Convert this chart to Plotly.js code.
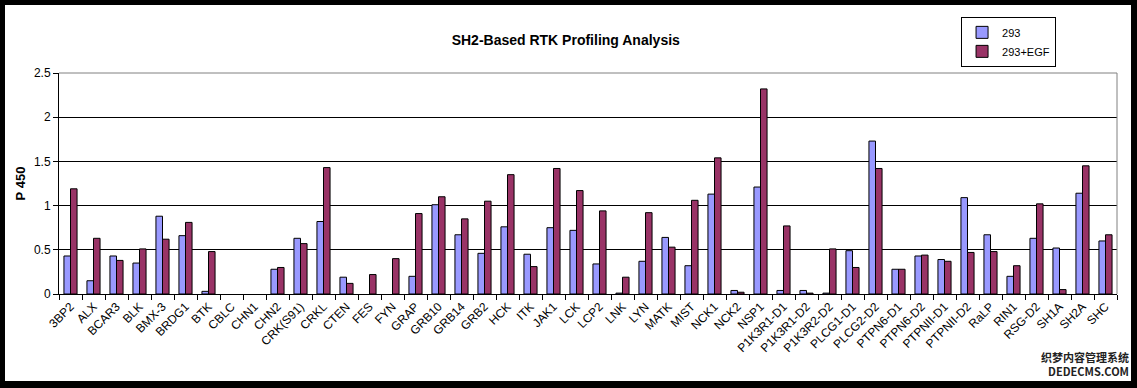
<!DOCTYPE html>
<html>
<head>
<meta charset="utf-8">
<script src="https://cdn.plot.ly/plotly-3.0.1.min.js"></script>
<style>
  html, body { margin: 0; padding: 0; background: #000; width: 1137px; height: 388px; overflow: hidden; }
  #chart { position: absolute; left: 5px; top: 5px; width: 1126px; height: 376px; background: #fff; }
</style>
</head>
<body>
<div id="chart"></div>
<script>
const categories = ["3BP2","ALX","BCAR3","BLK","BMX-3","BRDG1","BTK","CBLC","CHN1","CHN2",
  "CRK(S91)","CRKL","CTEN","FES","FYN","GRAP","GRB10","GRB14","GRB2","HCK",
  "ITK","JAK1","LCK","LCP2","LNK","LYN","MATK","MIST","NCK1","NCK2",
  "NSP1","P1K3R1-D1","P1K3R1-D2","P1K3R2-D2","PLCG1-D1","PLCG2-D2","PTPN6-D1","PTPN6-D2","PTPNII-D1","PTPNII-D2",
  "RaLP","RIN1","RSG-D2","SH1A","SH2A","SHC"];

// null = no bar drawn in the reference
const s293 = [0.43,0.15,0.43,0.35,0.88,0.66,0.03,null,null,0.28,
  0.63,0.82,0.19,null,null,0.20,1.01,0.67,0.46,0.76,
  0.45,0.75,0.72,0.34,0.01,0.37,0.64,0.32,1.13,0.04,
  1.21,0.04,0.04,0.01,0.49,1.73,0.28,0.43,0.39,1.09,
  0.67,0.20,0.63,0.52,1.14,0.60];

const s293EGF = [1.19,0.63,0.38,0.51,0.62,0.81,0.48,null,null,0.30,
  0.57,1.43,0.12,0.22,0.40,0.91,1.10,0.85,1.05,1.35,
  0.31,1.42,1.17,0.94,0.19,0.92,0.53,1.06,1.54,0.02,
  2.32,0.77,0.01,0.51,0.30,1.42,0.28,0.44,0.37,0.47,
  0.48,0.32,1.02,0.05,1.45,0.67];

const seriesNames = ["293", "293+EGF"];
const yTicks = [0, 0.5, 1, 1.5, 2, 2.5];
const yTickText = ["0", "0.5", "1", "1.5", "2", "2.5"];

const FONT = 'Arial, "Liberation Sans", sans-serif';

const traces = [
  { type: 'bar', name: seriesNames[0], x: categories, y: s293,
    marker: { color: '#9999FF', line: { color: '#000', width: 1 } } },
  { type: 'bar', name: seriesNames[1], x: categories, y: s293EGF,
    marker: { color: '#993366', line: { color: '#000', width: 1 } } }
];

const layout = {
  width: 1126, height: 376,
  paper_bgcolor: '#fff', plot_bgcolor: '#fff',
  margin: { l: 54, r: 14, t: 65, b: 87 },
  barmode: 'group', bargap: 0.43, bargroupgap: 0,
  font: { family: FONT, size: 12, color: '#000' },
  title: { text: 'SH2-Based RTK Profiling Analysis', x: 0.498, xref: 'container', xanchor: 'center',
           y: 0.907, yref: 'container', yanchor: 'middle',
           font: { family: FONT, size: 14, color: '#000', weight: 'bold' } },
  xaxis: { type: 'category', tickangle: -45, ticks: 'outside', tickson: 'boundaries', ticklen: 5,
           tickcolor: '#000', showline: true, linecolor: '#000', linewidth: 1, showgrid: false,
           tickfont: { family: FONT, size: 12, color: '#000' }, automargin: false },
  yaxis: { range: [0, 2.5], tickvals: yTicks, ticktext: yTickText, ticks: 'outside', ticklen: 5,
           tickcolor: '#000', showline: true, linecolor: '#000', linewidth: 1,
           showgrid: true, gridcolor: '#000', gridwidth: 1, zeroline: false,
           tickfont: { family: FONT, size: 12, color: '#000' }, automargin: false,
           title: { text: 'P 450', standoff: 5, font: { family: FONT, size: 13, color: '#000', weight: 'bold' } } },
  showlegend: true,
  legend: { x: 0.8526, y: 1.254, xanchor: 'left', yanchor: 'top', bgcolor: '#fff',
            bordercolor: '#000', borderwidth: 1, itemwidth: 30, tracegroupgap: 4,
            font: { family: FONT, size: 11, color: '#000' } },
  shapes: [
    { type: 'line', xref: 'paper', yref: 'paper', x0: 0, x1: 1, y0: 1, y1: 1, line: { color: '#808080', width: 1 } },
    { type: 'line', xref: 'paper', yref: 'paper', x0: 1, x1: 1, y0: 0, y1: 1, line: { color: '#808080', width: 1 } }
  ],
  annotations: [
    { text: '织梦内容管理系统<br>DEDECMS.COM', xref: 'paper', yref: 'paper', x: 1.012, y: -0.318,
      xanchor: 'right', yanchor: 'middle', align: 'right', borderpad: 0,
      showarrow: false, font: { family: '"Noto Sans CJK SC", sans-serif', size: 11, color: '#222', weight: 'bold' } }
  ]
};

Plotly.newPlot('chart', traces, layout, { displayModeBar: false, staticPlot: true });
</script>
</body>
</html>
